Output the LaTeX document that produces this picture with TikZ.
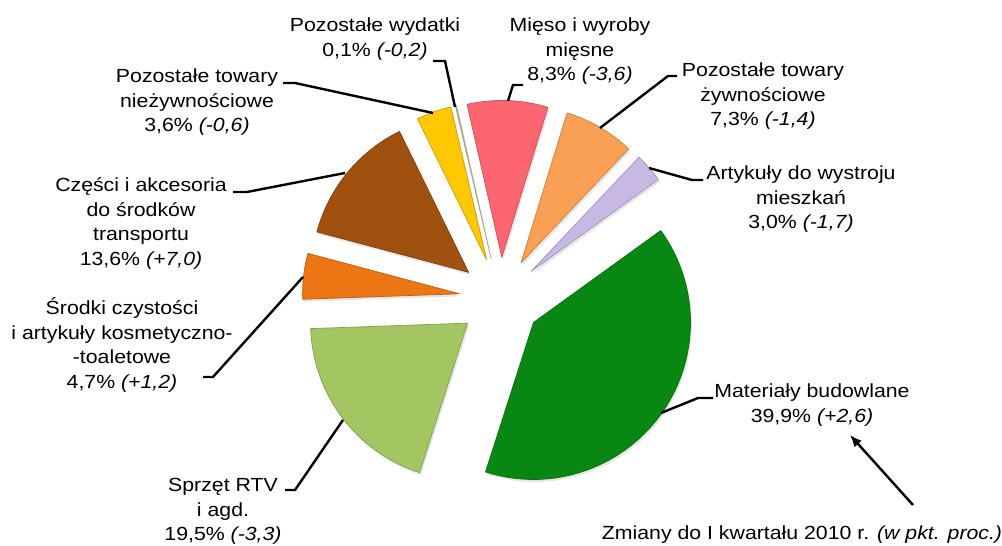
\documentclass[tikz,border=0pt]{standalone}
\usepackage{fontspec}
\setmainfont{Liberation Sans}[FakeStretch=1.12]
\usetikzlibrary{arrows.meta,shadows}
\definecolor{wyd}{RGB}{200,208,160}
\definecolor{mieso}{RGB}{253,102,112}
\definecolor{zyw}{RGB}{250,160,85}
\definecolor{wystr}{RGB}{200,185,228}
\definecolor{bud}{RGB}{8,135,18}
\definecolor{rtv}{RGB}{163,198,99}
\definecolor{chem}{RGB}{236,118,20}
\definecolor{czesci}{RGB}{160,80,15}
\definecolor{niezyw}{RGB}{255,200,0}
\begin{document}
\begin{tikzpicture}[x=1pt,y=1pt,
  slice/.style={fill=#1,drop shadow={shadow xshift=1.5pt,shadow yshift=-2.5pt,opacity=0.2},
    postaction={draw=#1!80!black,line width=0.7pt,line join=round}},
  label node/.style={align=center,anchor=base,inner sep=0pt,font=\fontsize{19}{24.5}\selectfont},
  leader/.style={line width=2.4pt}]
  \useasboundingbox (0,0) rectangle (1002,546);
  \coordinate (c) at (500.3,247.6);

  \fill[slice=wyd] (c) ++(102.98:41) -- ++(103.16:157) arc[start angle=103.16,end angle=102.8,radius=157] -- cycle;
  \fill[slice=mieso] (c) ++(87.86:41) -- ++(102.8:157) arc[start angle=102.8,end angle=72.92,radius=157] -- cycle;
  \fill[slice=zyw] (c) ++(59.78:41) -- ++(72.92:157) arc[start angle=72.92,end angle=46.64,radius=157] -- cycle;
  \fill[slice=wystr] (c) ++(41.24:41) -- ++(46.64:157) arc[start angle=46.64,end angle=35.84,radius=157] -- cycle;
  \fill[slice=bud] (c) ++(-35.98:41) -- ++(35.84:157) arc[start angle=35.84,end angle=-107.8,radius=157] -- cycle;
  \fill[slice=rtv] (c) ++(-142.9:41) -- ++(-107.8:157) arc[start angle=-107.8,end angle=-178,radius=157] -- cycle;
  \fill[slice=chem] (c) ++(-186.46:41) -- ++(-178:157) arc[start angle=-178,end angle=-194.92,radius=157] -- cycle;
  \fill[slice=czesci] (c) ++(-219.4:41) -- ++(-194.92:157) arc[start angle=-194.92,end angle=-243.88,radius=157] -- cycle;
  \fill[slice=niezyw] (c) ++(-250.36:41) -- ++(-243.88:157) arc[start angle=-243.88,end angle=-256.84,radius=157] -- cycle;

  \node[label node] at (375,489.5) (wydatki) {Pozostałe wydatki\\0,1\% \textit{(-0,2)}};
  \node[label node] at (197,414) (niezywn) {Pozostałe towary\\nieżywnościowe\\3,6\% \textit{(-0,6)}};
  \node[label node] at (580,465) (mieso) {Mięso i wyroby\\mięsne\\8,3\% \textit{(-3,6)}};
  \node[label node] at (763,420) (zywn) {Pozostałe towary\\żywnościowe\\7,3\% \textit{(-1,4)}};
  \node[label node] at (801,317) (wystroj) {Artykuły do wystroju\\mieszkań\\3,0\% \textit{(-1,7)}};
  \node[label node] at (812,123.5) (budowl) {Materiały budowlane\\39,9\% \textit{(+2,6)}};
  \node[label node] at (223,5) (sprzet) {Sprzęt RTV\\i agd.\\19,5\% \textit{(-3,3)}};
  \node[label node] at (122,157.5) (srodki) {Środki czystości\\i artykuły kosmetyczno-\\-toaletowe\\4,7\% \textit{(+1,2)}};
  \node[label node] at (141,280.5) (czesci) {Części i akcesoria\\do środków\\transportu\\13,6\% \textit{(+7,0)}};
  \node[label node] at (802,6) (zmiany) {Zmiany do I kwartału 2010 r. \textit{(w pkt. proc.)}};

  \coordinate (wyd1) at (433,485);  \coordinate (wyd2) at (455,439);
  \coordinate (nie1) at (283,463);  \coordinate (nie2) at (433,433);
  \coordinate (mie1) at (523,461);  \coordinate (mie2) at (508,445);
  \coordinate (zyw1) at (677,470);  \coordinate (zyw2) at (600,418);
  \coordinate (wys1) at (703,366);  \coordinate (wys2) at (649,378);
  \coordinate (bud1) at (713,148);  \coordinate (bud2) at (661,133);
  \coordinate (rtv1) at (285,56);   \coordinate (rtv2) at (343,126);
  \coordinate (che1) at (203,169);  \coordinate (che2) at (303,269);
  \coordinate (cze1) at (233,354);  \coordinate (cze2) at (345,373);
  \coordinate (zm1) at (913,41);    \coordinate (zm2) at (850,111);

  \draw[leader] (wyd1) -- ++(12,0) -- (wyd2);
  \draw[leader] (nie1) -- ++(12,0) -- (nie2);
  \draw[leader] (mie1) -- ++(-10,0) -- (mie2);
  \draw[leader] (zyw1) -- ++(-9,0) -- (zyw2);
  \draw[leader] (wys1) -- ++(-11,0) -- (wys2);
  \draw[leader] (bud1) -- ++(-15,0) -- (bud2);
  \draw[leader] (rtv1) -- ++(10,0) -- (rtv2);
  \draw[leader] (che1) -- ++(10,0) -- (che2);
  \draw[leader] (cze1) -- ++(14,0) -- (cze2);
  \draw[leader,-{Latex[length=12pt,width=10pt]}] (zm1) -- (zm2);
\end{tikzpicture}
\end{document}
